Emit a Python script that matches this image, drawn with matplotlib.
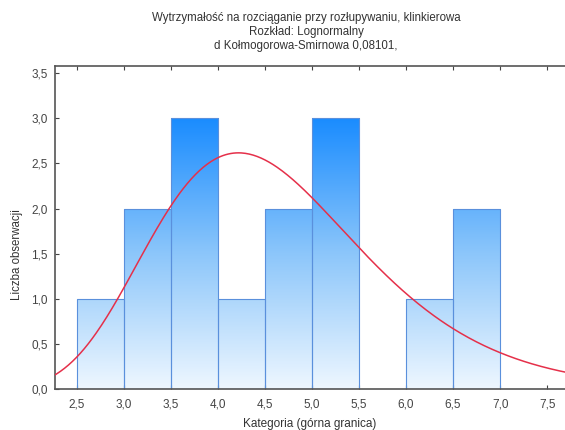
import numpy as np
import matplotlib
matplotlib.use('Agg')
import matplotlib.pyplot as plt
from matplotlib.colors import LinearSegmentedColormap
from matplotlib.patches import Rectangle
from matplotlib.ticker import FuncFormatter

plt.rcParams['font.family'] = ['Liberation Sans', 'DejaVu Sans']

# histogram: upper bin limits and counts
bin_edges = [2.5, 3.0, 3.5, 4.0, 4.5, 5.0, 5.5, 6.0, 6.5, 7.0]
counts = [1, 2, 3, 1, 2, 3, 0, 1, 2]

# fitted lognormal (log-mean, log-sd)
ln_mu = 1.508
ln_sigma = 0.262
n_obs = sum(counts)
bin_w = 0.5

title_lines = ['Wytrzymałość na rozciąganie przy rozłupywaniu, klinkierowa',
               'Rozkład: Lognormalny',
               'd Kołmogorowa-Smirnowa 0,08101,']

fig = plt.figure(figsize=(5.65, 4.3), dpi=100)
ax = fig.add_axes([0.097, 0.095, 0.913, 0.752])

cmap = LinearSegmentedColormap.from_list('bl', ['#eef7ff', '#8cc6fa', '#1a8cff'])
grad = np.linspace(0, 1, 256).reshape(-1, 1)
for left, right, c in zip(bin_edges[:-1], bin_edges[1:], counts):
    if c == 0:
        continue
    im = ax.imshow(grad, cmap=cmap, origin='lower', aspect='auto',
                   extent=[left, right, 0, 3.0], zorder=1)
    rect = Rectangle((left, 0), right - left, c, facecolor='none',
                     edgecolor='#5a90dc', lw=0.8, zorder=2)
    ax.add_patch(rect)
    im.set_clip_path(rect)

x = np.linspace(2.2, 7.8, 400)
pdf = np.exp(-(np.log(x) - ln_mu) ** 2 / (2 * ln_sigma ** 2)) / (x * ln_sigma * np.sqrt(2 * np.pi))
ax.plot(x, pdf * n_obs * bin_w, color='#e5304a', lw=1.1, zorder=3)

ax.set_xlim(2.265, 7.75)
ax.set_ylim(0, 3.58)
ax.set_xticks(np.arange(2.5, 7.51, 0.5))
ax.set_yticks(np.arange(0, 3.51, 0.5))
fmt = FuncFormatter(lambda v, p: ('%.1f' % v).replace('.', ','))
ax.xaxis.set_major_formatter(fmt)
ax.yaxis.set_major_formatter(fmt)
ax.tick_params(direction='in', length=3, width=0.8, color='#444444',
               labelsize=8.5, labelcolor='#444444', top=True, right=True)
ax.tick_params(axis='x', pad=7)
ax.tick_params(axis='y', pad=5)
for s in ax.spines.values():
    s.set_color('#555555')
    s.set_linewidth(1.2)

for i, line in enumerate(title_lines):
    fig.text(0.542, 1 - (18 + 14 * i) / 430, line, ha='center', va='center',
             fontsize=8.3, color='#333333')
fig.text(0.548, 1 - 424 / 430, 'Kategoria (górna granica)', ha='center', va='center',
         fontsize=8.5, color='#333333')
fig.text(17 / 565, 1 - 255 / 430, 'Liczba obserwacji', ha='center', va='center',
         rotation=90, fontsize=8.3, color='#333333')

fig.savefig('out.png', dpi=100)
